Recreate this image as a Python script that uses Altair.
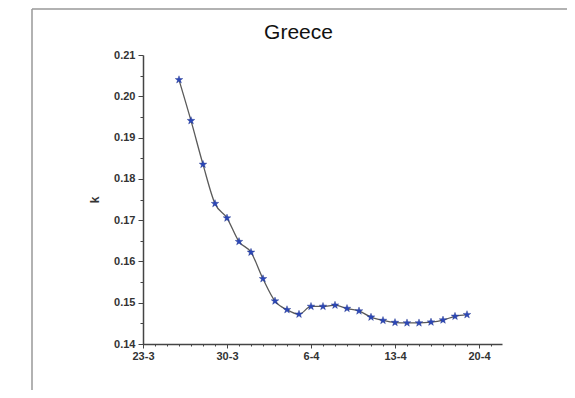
import altair as alt
import pandas as pd

# ---- data ----
dates = pd.date_range("2020-03-26", "2020-04-19", freq="D").strftime("%Y-%m-%d").tolist()
k_values = [0.2040, 0.1941, 0.1835, 0.1740, 0.1705, 0.1648, 0.1622, 0.1558,
            0.1504, 0.1483, 0.1472, 0.1491, 0.1491, 0.1494, 0.1486, 0.1480,
            0.1465, 0.1457, 0.1452, 0.1451, 0.1451, 0.1453, 0.1458, 0.1467,
            0.1471]
tick_dates = ["2020-03-23", "2020-03-30", "2020-04-06", "2020-04-13", "2020-04-20"]
tick_labels = ["23-3", "30-3", "6-4", "13-4", "20-4"]
minor_dates = pd.date_range("2020-03-23", "2020-04-21", freq="D").strftime("%Y-%m-%d").tolist()
y_major = [0.14, 0.15, 0.16, 0.17, 0.18, 0.19, 0.20, 0.21]
y_minor = [0.145, 0.155, 0.165, 0.175, 0.185, 0.195, 0.205]

df = pd.DataFrame({"date": dates, "k": k_values})

def ts(d):
    return int(pd.Timestamp(d, tz="UTC").timestamp() * 1000)

x_domain = [ts("2020-03-23"), ts("2020-04-21 22:00")]
ts_list = "[" + ",".join(str(ts(d)) for d in tick_dates) + "]"
lab_list = "[" + ",".join(f"'{l}'" for l in tick_labels) + "]"
x_label_expr = (f"indexof({ts_list}, time(datum.value)) >= 0 ? "
                f"{lab_list}[indexof({ts_list}, time(datum.value))] : ''")

STAR = ("M0,-1L0.235,-0.324L0.951,-0.309L0.38,0.124L0.588,0.809L0,0.4"
        "L-0.588,0.809L-0.38,0.124L-0.951,-0.309L-0.235,-0.324Z")

xscale = alt.Scale(type="utc", domain=x_domain)
yscale = alt.Scale(domain=[0.14, 0.21], nice=False, zero=False)

FONT = "Liberation Sans"
axis_common = dict(labelFont=FONT, labelFontSize=11, labelFontWeight="bold",
                   labelColor="#333333", domainColor="#444444", tickColor="#444444",
                   grid=False, titleFont=FONT, domainWidth=1.5, labelOverlap=False)

base = alt.Chart(df)

minor = base.mark_point(opacity=0).encode(
    x=alt.X("date:T", scale=xscale,
            axis=alt.Axis(values=[ts(d) for d in minor_dates], labels=False, domain=False,
                          title=None, tickSize=2, orient="bottom", grid=False,
                          tickColor="#444444")),
    y=alt.Y("k:Q", scale=yscale,
            axis=alt.Axis(values=y_minor, labels=False, domain=False, title=None,
                          tickSize=3, orient="left", grid=False, tickColor="#444444")),
)

line = base.mark_line(interpolate="monotone", color="#5a5a5a", strokeWidth=1.3).encode(
    x=alt.X("date:T", scale=xscale,
            axis=alt.Axis(values=[ts(d) for d in tick_dates], labelExpr=x_label_expr,
                          title=None, tickSize=4, labelPadding=2, labelFlush=False,
                          orient="bottom", **axis_common)),
    y=alt.Y("k:Q", scale=yscale,
            axis=alt.Axis(values=y_major, format=".2f", title="k", tickSize=5,
                          labelPadding=3, titleFontSize=12, titleFontWeight="bold",
                          titleColor="#333333", titlePadding=12, orient="left",
                          **axis_common)),
)

points = base.mark_point(shape=STAR, filled=True, size=64, fill="#2b47b8",
                         stroke="#1d2f8a", strokeWidth=0.4, opacity=1).encode(
    x=alt.X("date:T", scale=xscale, axis=None),
    y=alt.Y("k:Q", scale=yscale, axis=None),
)

frame_top = alt.Chart(pd.DataFrame({"a": [0]})).mark_rule(color="#999999", strokeWidth=1.5).encode(
    x=alt.value(-111), x2=alt.value(600), y=alt.value(-46))
frame_left = alt.Chart(pd.DataFrame({"a": [0]})).mark_rule(color="#999999", strokeWidth=1.5).encode(
    x=alt.value(-111), y=alt.value(-46), y2=alt.value(400))

chart = alt.layer(frame_top, frame_left, minor, line, points).resolve_axis(
    x="independent", y="independent"
).properties(
    width=359, height=289,
    autosize=alt.AutoSizeParams(type="none"),
    padding={"left": 135, "top": 47, "right": 65, "bottom": 46},
    title=alt.TitleParams("Greece", font=FONT, fontSize=21, fontWeight="normal",
                          color="#111111", anchor="middle", frame="group", dx=-24,
                          offset=-35),
).configure_view(stroke=None)

chart.save("out.html", embed_options={"renderer": "svg", "actions": False})
